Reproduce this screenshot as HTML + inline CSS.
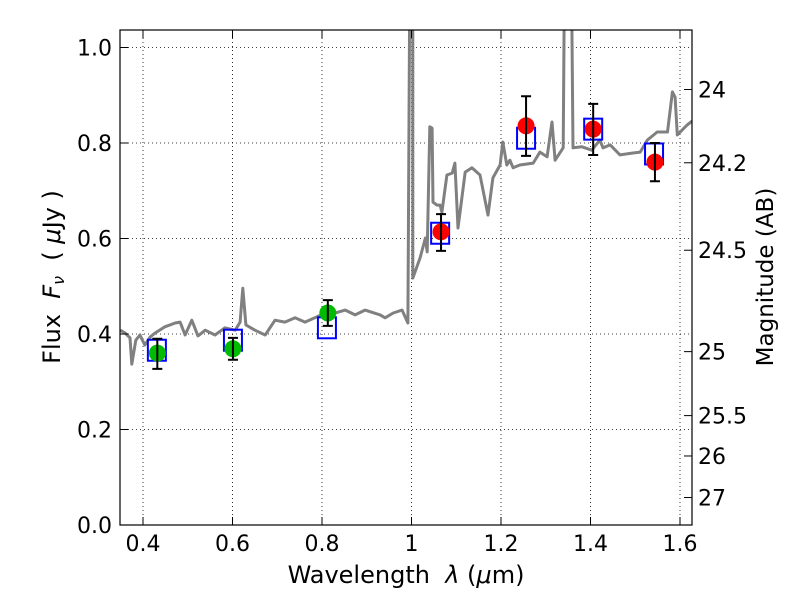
<!DOCTYPE html>
<html><head><meta charset="utf-8"><style>
body{margin:0;background:#fff}
svg{display:block;font-family:"DejaVu Sans","Liberation Sans",sans-serif}
</style></head><body>
<svg id="chart" width="800" height="600">
<defs><clipPath id="clip"><rect x="120" y="30" width="572" height="495"/></clipPath></defs>
<rect x="0" y="0" width="800" height="600" fill="#fff"/>
<g id="grid"></g>
<g id="spec" clip-path="url(#clip)"></g>
<g id="marks" clip-path="url(#clip)"></g>
<rect x="120" y="30" width="572" height="495" fill="none" stroke="#000" stroke-width="1.2"/>
<g id="axes"></g>
<text x="406" y="583" font-size="24" text-anchor="middle" xml:space="preserve">Wavelength  <tspan font-style="italic">λ</tspan> (<tspan font-style="italic">μ</tspan>m)</text>
<text transform="translate(60,277) rotate(-90)" font-size="24" text-anchor="middle" xml:space="preserve">Flux  <tspan font-style="italic">F<tspan font-size="16" dy="4">ν</tspan></tspan><tspan dy="-4">  ( </tspan><tspan font-style="italic">μ</tspan>Jy )</text>
<text transform="translate(773,277) rotate(-90)" font-size="23" text-anchor="middle">Magnitude (AB)</text>
</svg>
<script>
const specWave=[0.349,0.360,0.371,0.375,0.384,0.393,0.404,0.416,0.427,0.449,0.472,0.483,0.494,0.509,0.523,0.539,0.561,0.583,0.606,0.617,0.623,0.630,0.650,0.673,0.695,0.717,0.740,0.762,0.784,0.807,0.829,0.852,0.874,0.896,0.930,0.941,0.959,0.979,0.992,0.997,1.003,1.003,1.019,1.031,1.035,1.041,1.046,1.048,1.057,1.064,1.068,1.079,1.091,1.097,1.104,1.120,1.135,1.153,1.171,1.182,1.198,1.204,1.213,1.220,1.227,1.242,1.272,1.287,1.303,1.314,1.321,1.339,1.343,1.356,1.361,1.381,1.403,1.421,1.428,1.444,1.466,1.495,1.511,1.527,1.549,1.572,1.583,1.589,1.594,1.616,1.630];
const specFlux=[0.408,0.402,0.392,0.337,0.387,0.398,0.377,0.394,0.402,0.415,0.423,0.425,0.398,0.429,0.396,0.408,0.398,0.413,0.408,0.425,0.496,0.419,0.408,0.398,0.429,0.425,0.434,0.425,0.434,0.444,0.444,0.450,0.440,0.450,0.440,0.434,0.444,0.450,0.423,1.3,1.3,0.517,0.559,0.601,0.572,0.834,0.831,0.676,0.670,0.670,0.655,0.733,0.737,0.758,0.622,0.739,0.748,0.733,0.649,0.727,0.754,0.802,0.754,0.764,0.748,0.754,0.758,0.781,0.771,0.844,0.764,0.790,1.3,1.3,0.790,0.792,0.785,0.806,0.790,0.796,0.775,0.779,0.781,0.806,0.823,0.823,0.907,0.896,0.817,0.838,0.848];
const modelWave=[0.431,0.601,0.811,1.064,1.256,1.406,1.542];
const modelFlux=[0.366,0.387,0.413,0.611,0.81,0.829,0.777];
const obsWave=[0.432,0.601,0.813,1.066,1.256,1.406,1.544];
const obsFlux=[0.36,0.369,0.444,0.614,0.836,0.829,0.76];
const obsErrLo=[0.327,0.346,0.417,0.574,0.773,0.775,0.72];
const obsErrHi=[0.39,0.392,0.471,0.651,0.898,0.882,0.8];
const obsColor=["#00bb00","#00bb00","#00bb00","#ff0000","#ff0000","#ff0000","#ff0000"];
const xTicks=[0.4,0.6,0.8,1.0,1.2,1.4,1.6];
const xTickLabels=["0.4","0.6","0.8","1","1.2","1.4","1.6"];
const yTicks=[0,0.2,0.4,0.6,0.8,1.0];
const yTickLabels=["0.0","0.2","0.4","0.6","0.8","1.0"];
const magTicks=[24,24.2,24.5,25,25.5,26,27];
const magTickLabels=["24","24.2","24.5","25","25.5","26","27"];

const X=v=>143+(v-0.4)*447.5;
const Y=v=>525-v*477.5;
const NS="http://www.w3.org/2000/svg";
function mk(tag,attrs,parent){const e=document.createElementNS(NS,tag);for(const k in attrs)e.setAttribute(k,attrs[k]);parent.appendChild(e);return e;}
const grid=document.getElementById('grid'),axes=document.getElementById('axes'),spec=document.getElementById('spec'),marks=document.getElementById('marks');

xTicks.forEach((t,i)=>{
  const g=mk('line',{x1:X(t),x2:X(t),y1:30,y2:525,stroke:'#000','stroke-width':0.8,'stroke-dasharray':'1,3'},grid);
  
  
  mk('line',{x1:X(t),x2:X(t),y1:525,y2:517,stroke:'#000'},axes);
  mk('line',{x1:X(t),x2:X(t),y1:30,y2:38,stroke:'#000'},axes);
  const tx=mk('text',{x:X(t),y:551,'font-size':22,'text-anchor':'middle'},axes);
  tx.textContent=xTickLabels[i];
  
  
});
yTicks.forEach((t,i)=>{
  const g=mk('line',{x1:120,x2:692,y1:Y(t),y2:Y(t),stroke:'#000','stroke-width':0.8,'stroke-dasharray':'1,3'},grid);
  
  
  mk('line',{x1:120,x2:128,y1:Y(t),y2:Y(t),stroke:'#000'},axes);
  const tx=mk('text',{x:112,y:Y(t)+8,'font-size':22,'text-anchor':'end'},axes);
  tx.textContent=yTickLabels[i];
  
  
});
magTicks.forEach((m,i)=>{
  const y=Y(Math.pow(10,(23.9-m)/2.5));
  mk('line',{x1:684,x2:692,y1:y,y2:y,stroke:'#000'},axes);
  const tx=mk('text',{x:698,y:y+8,'font-size':22},axes);
  tx.textContent=magTickLabels[i];
  
  
});

const pts=specWave.map((w,i)=>X(w).toFixed(1)+','+Y(specFlux[i]).toFixed(1)).join(' ');
const pl=mk('polyline',{points:pts,fill:'none',stroke:'#808080','stroke-width':3,'stroke-linejoin':'round'},spec);



modelWave.forEach((w,i)=>{
  const r=mk('rect',{x:X(w)-9,y:Y(modelFlux[i])-10.5,width:18,height:21,fill:'none',stroke:'#0000ff','stroke-width':2},marks);
  
  
});
obsWave.forEach((w,i)=>{
  const x=X(w),y1=Y(obsErrHi[i]),y2=Y(obsErrLo[i]);
  const c=mk('circle',{cx:x,cy:Y(obsFlux[i]),r:8.5,fill:obsColor[i]},marks);
  
  
  const e=mk('path',{d:`M${x},${y1}V${y2}M${x-5},${y1}H${x+5}M${x-5},${y2}H${x+5}`,stroke:'#000','stroke-width':2,fill:'none'},marks);
  
  
});
</script>
</body></html>
